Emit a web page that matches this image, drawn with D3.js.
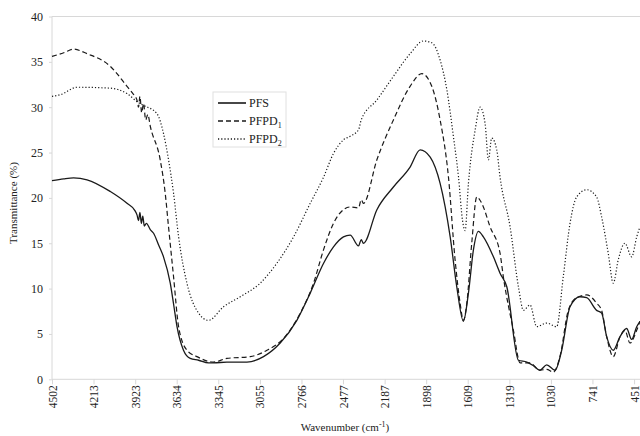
<!DOCTYPE html>
<html>
<head>
<meta charset="utf-8">
<script src="https://cdn.jsdelivr.net/npm/d3@7"></script>
<style>
  body { margin: 0; background: #fff; }
  text { font-family: "Liberation Serif", "DejaVu Serif", serif; fill: #222; }
</style>
</head>
<body>
<svg width="640" height="436"></svg>
<script>
// tick labels of the wavenumber axis
const xTicks = [4502, 4213, 3923, 3634, 3345, 3055, 2766, 2477, 2187, 1898, 1609, 1319, 1030, 741, 451];
const yTicks = [0, 5, 10, 15, 20, 25, 30, 35, 40];

// PFS
const pfsWave = [4502, 4420, 4352, 4258, 4096, 3980, 3925, 3910, 3900, 3890, 3880, 3870, 3860, 3845, 3818, 3795, 3760, 3726, 3679, 3656, 3632, 3587, 3540, 3482, 3413, 3378, 3285, 3145, 3030, 2914, 2798, 2705, 2612, 2543, 2474, 2427, 2369, 2350, 2335, 2241, 2126, 2010, 1940, 1870, 1801, 1731, 1685, 1639, 1604, 1569, 1535, 1500, 1430, 1384, 1337, 1256, 1198, 1152, 1106, 1059, 1001, 955, 897, 828, 781, 712, 677, 642, 596, 549, 503, 468, 433, 410];
const pfsT = [21.9, 22.1, 22.2, 22.0, 20.7, 19.4, 18.6, 18.1, 17.5, 18.4, 17.2, 18.0, 16.9, 17.2, 16.5, 16.1, 14.8, 13.5, 10.6, 8.3, 5.8, 3.2, 2.3, 2.1, 1.8, 1.8, 1.9, 1.9, 2.5, 4.0, 6.5, 9.5, 12.8, 14.6, 15.7, 15.9, 14.7, 15.4, 15.0, 18.7, 21.2, 23.4, 25.3, 24.5, 21.6, 15.7, 10.2, 6.4, 9.5, 14.3, 16.3, 15.7, 13.5, 11.7, 10.2, 2.1, 1.9, 1.5, 1.0, 1.6, 1.0, 3.2, 8.0, 9.1, 9.0, 7.6, 7.3, 4.7, 3.2, 4.7, 5.6, 4.4, 5.8, 6.4];

// PFPD1
const pfpd1Wave = [4502, 4420, 4352, 4258, 4096, 3980, 3930, 3911, 3900, 3890, 3878, 3865, 3850, 3835, 3818, 3749, 3714, 3691, 3656, 3621, 3563, 3493, 3378, 3285, 3122, 3006, 2891, 2774, 2682, 2612, 2543, 2474, 2427, 2369, 2350, 2335, 2241, 2126, 2010, 1928, 1859, 1801, 1743, 1697, 1662, 1639, 1615, 1581, 1546, 1511, 1453, 1384, 1361, 1291, 1244, 1175, 1106, 1059, 1013, 967, 909, 851, 781, 712, 677, 642, 596, 549, 515, 480, 433, 410];
const pfpd1T = [35.6, 36.0, 36.4, 35.9, 34.5, 32.3, 31.3, 30.8, 30.0, 31.2, 29.4, 30.4, 28.6, 29.2, 27.9, 24.2, 20.5, 16.8, 11.3, 5.8, 3.2, 2.5, 1.9, 2.3, 2.5, 3.2, 4.5, 7.3, 10.6, 14.3, 17.2, 18.7, 19.0, 18.9, 19.8, 19.4, 24.2, 28.6, 32.3, 33.7, 32.3, 28.6, 22.3, 13.2, 8.4, 6.5, 8.4, 15.0, 20.1, 19.4, 16.8, 13.9, 11.3, 5.4, 1.8, 1.8, 1.0, 1.1, 0.8, 2.5, 7.6, 9.0, 9.3, 8.4, 7.6, 4.7, 2.5, 4.7, 5.4, 4.0, 5.4, 6.4];

// PFPD2
const pfpd2Wave = [4502, 4440, 4328, 4096, 3980, 3900, 3865, 3772, 3726, 3691, 3656, 3621, 3563, 3482, 3413, 3308, 3192, 3053, 2937, 2821, 2705, 2612, 2543, 2474, 2427, 2369, 2350, 2241, 2126, 2010, 1917, 1859, 1801, 1754, 1708, 1673, 1645, 1627, 1604, 1557, 1523, 1488, 1465, 1442, 1407, 1384, 1314, 1256, 1221, 1175, 1129, 1059, 990, 944, 897, 851, 781, 712, 677, 631, 596, 561, 515, 468, 433, 410];
const pfpd2T = [31.2, 31.4, 32.2, 32.1, 31.5, 30.5, 30.2, 29.3, 27.1, 24.2, 20.5, 15.7, 10.6, 7.3, 6.5, 8.0, 9.1, 10.6, 12.8, 15.7, 19.4, 22.3, 24.9, 26.4, 26.8, 27.5, 28.6, 30.8, 33.4, 35.9, 37.3, 37.1, 35.2, 31.9, 26.7, 22.3, 17.5, 16.4, 21.6, 27.5, 30.0, 28.2, 24.2, 26.6, 25.3, 22.3, 16.8, 10.2, 7.6, 8.2, 5.8, 6.2, 5.8, 11.3, 17.2, 20.1, 20.9, 20.1, 17.9, 13.9, 10.6, 13.2, 15.0, 13.5, 15.7, 16.8];

const series = [
  {name: "PFS", sub: "", wave: pfsWave, t: pfsT, dash: null, w: 1.3},
  {name: "PFPD", sub: "1", wave: pfpd1Wave, t: pfpd1T, dash: "5,3", w: 1.2},
  {name: "PFPD", sub: "2", wave: pfpd2Wave, t: pfpd2T, dash: "1.2,2", w: 1.2}
];

const svg = d3.select("svg");
const mLeft = 52, mRight = 640, mTop = 16.5, mBottom = 379.3;

const x = d3.scaleLinear().domain([4502, 410]).range([mLeft, mRight]);
const y = d3.scaleLinear().domain([0, 40]).range([mBottom, mTop]);

// frame lines
const axisCol = "#d8d8d8";
svg.append("line").attr("x1", mLeft).attr("x2", mRight).attr("y1", mTop).attr("y2", mTop).attr("stroke", axisCol);

const xAxis = svg.append("g").attr("transform", `translate(0,${mBottom})`)
  .call(d3.axisBottom(x).tickValues(xTicks).tickSize(5).tickFormat(d => d))
  .attr("font-family", "Liberation Serif, serif");
xAxis.select(".domain").attr("stroke", axisCol).attr("d", `M${mLeft},0H${mRight}`);
xAxis.selectAll(".tick line").attr("stroke", axisCol);
xAxis.selectAll(".tick text")
  .attr("transform", "rotate(-90)")
  .attr("text-anchor", "end")
  .attr("x", -6).attr("y", 0).attr("dy", "0.35em")
  .style("font-size", "11.5px")
  .attr("fill", "#222");

const yAxis = svg.append("g").attr("transform", `translate(${mLeft},0)`)
  .call(d3.axisLeft(y).tickValues(yTicks).tickSize(3).tickPadding(6))
  .attr("font-family", "Liberation Serif, serif");
yAxis.select(".domain").attr("stroke", axisCol).attr("d", `M0,${mBottom}V${mTop}`);
yAxis.selectAll(".tick line").attr("stroke", axisCol);
yAxis.selectAll(".tick text")
  .style("font-size", "12px")
  .attr("fill", "#222");

// spectra
const line = d3.line()
  .x(d => x(d[0]))
  .y(d => y(d[1]))
  .curve(d3.curveMonotoneX);

series.forEach(s => {
  const pts = s.wave.map((w, i) => [w, s.t[i]]);
  svg.append("path")
    .datum(pts)
    .attr("d", line)
    .attr("fill", "none")
    .attr("stroke", "#1a1a1a")
    .attr("stroke-width", s.w)
    .attr("stroke-dasharray", s.dash);
});

// axis titles
svg.append("text")
  .attr("transform", "translate(17,203) rotate(-90)")
  .attr("text-anchor", "middle")
  .style("font-size", "11px")
  .text("Transmittance (%)");

const xt = svg.append("text")
  .attr("x", 345).attr("y", 431)
  .attr("text-anchor", "middle")
  .style("font-size", "11px");
xt.append("tspan").text("Wavenumber (cm");
xt.append("tspan").attr("dy", -4).style("font-size", "8px").text("-1");
xt.append("tspan").attr("dy", 4).text(")");

// legend
const lg = svg.append("g").attr("transform", "translate(213,92)");
lg.append("rect").attr("width", 73).attr("height", 55)
  .attr("fill", "#fff").attr("stroke", "#e0e0e0");
series.forEach((s, i) => {
  const yy = 11 + i * 18;
  lg.append("line").attr("x1", 5).attr("x2", 33).attr("y1", yy).attr("y2", yy)
    .attr("stroke", "#1a1a1a").attr("stroke-width", s.w + 0.3)
    .attr("stroke-dasharray", s.dash);
  const t = lg.append("text").attr("x", 36).attr("y", yy + 4)
    .style("font-size", "12px");
  t.append("tspan").text(s.name);
  if (s.sub) t.append("tspan").attr("dy", 3).style("font-size", "8px").text(s.sub);
});
</script>
</body>
</html>
